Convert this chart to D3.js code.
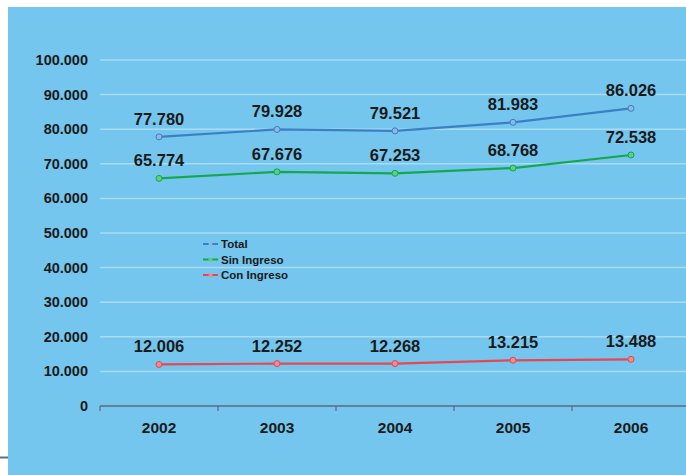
<!DOCTYPE html>
<html>
<head>
<meta charset="utf-8">
<script src="https://cdn.jsdelivr.net/npm/d3@7"></script>
<style>
  body { margin: 0; background: #fff; }
  text { font-family: "Liberation Sans", Arial, sans-serif; font-weight: bold; }
</style>
</head>
<body>
<script>
// chart data
var years = ["2002", "2003", "2004", "2005", "2006"];
var total = [77780, 79928, 79521, 81983, 86026];
var sinIngreso = [65774, 67676, 67253, 68768, 72538];
var conIngreso = [12006, 12252, 12268, 13215, 13488];
var yTicks = [0, 10000, 20000, 30000, 40000, 50000, 60000, 70000, 80000, 90000, 100000];

var w = 686, h = 475;
var series = [
  {name: "Total", values: total, color: "#3b7fc6", fill: "#8fb8e0"},
  {name: "Sin Ingreso", values: sinIngreso, color: "#14a84c", fill: "#5ccf85"},
  {name: "Con Ingreso", values: conIngreso, color: "#e8474f", fill: "#f08a90"}
];

var svg = d3.select("body").append("svg")
  .attr("width", w)
  .attr("height", h);

// background panel
svg.append("rect")
  .attr("x", 8).attr("y", 7)
  .attr("width", w - 8).attr("height", h - 7)
  .attr("fill", "#74c6ee");
svg.append("line")
  .attr("x1", 0).attr("x2", 8)
  .attr("y1", 457.5).attr("y2", 457.5)
  .style("stroke", "#5a6e8a")
  .style("stroke-width", 2);

var x = d3.scaleBand().domain(years).range([100, 690]);
var y = d3.scaleLinear().domain([0, 100000]).range([406, 60]);
var fmt = function (v) {
  return v === 0 ? "0" : d3.format(",")(v).replace(/,/g, ".");
};

// gridlines
svg.append("g")
  .selectAll("line")
  .data(yTicks.filter(function (d) { return d > 0; }))
  .enter().append("line")
  .attr("x1", 100).attr("x2", w)
  .attr("y1", function (d) { return y(d); })
  .attr("y2", function (d) { return y(d); })
  .style("stroke", "#a9dcf4")
  .style("stroke-width", 1.5);

// y axis labels
svg.append("g")
  .selectAll("text")
  .data(yTicks)
  .enter().append("text")
  .attr("x", 88)
  .attr("y", function (d) { return y(d); })
  .attr("dy", "0.35em")
  .attr("text-anchor", "end")
  .attr("font-size", "14.5px")
  .attr("fill", "#1a1a1a")
  .text(fmt);

// x axis
var xAxis = svg.append("g")
  .attr("transform", "translate(0," + y(0) + ")")
  .call(d3.axisBottom(x).tickSize(0).tickPadding(16).tickSizeOuter(0));
xAxis.select(".domain").remove();
xAxis.append("line")
  .attr("x1", 100).attr("x2", w)
  .style("stroke", "#5a6a80").style("stroke-width", 1.5);
xAxis.selectAll(".sep")
  .data(years)
  .enter().append("line")
  .attr("class", "sep")
  .attr("x1", function (d) { return x(d); })
  .attr("x2", function (d) { return x(d); })
  .attr("y1", 0).attr("y2", 5)
  .style("stroke", "#5a6a80").style("stroke-width", 1.2);
xAxis.selectAll(".tick text")
  .attr("font-size", "15.5px")
  .attr("fill", "#1a1a1a")
  .style("font-family", "'Liberation Sans', Arial, sans-serif")
  .style("font-weight", "bold");

var line = d3.line()
  .x(function (d, i) { return x(years[i]) + x.bandwidth() / 2; })
  .y(function (d) { return y(d); });

series.forEach(function (s) {
  var g = svg.append("g");
  g.append("path")
    .datum(s.values)
    .attr("d", line)
    .attr("fill", "none")
    .style("stroke", s.color)
    .style("stroke-width", 2.2);
  g.selectAll("circle")
    .data(s.values)
    .enter().append("circle")
    .attr("cx", function (d, i) { return x(years[i]) + x.bandwidth() / 2; })
    .attr("cy", function (d) { return y(d); })
    .attr("r", 3)
    .attr("fill", s.fill)
    .style("stroke", s.color)
    .style("stroke-width", 1);
  g.selectAll("text")
    .data(s.values)
    .enter().append("text")
    .attr("x", function (d, i) { return x(years[i]) + x.bandwidth() / 2; })
    .attr("y", function (d) { return y(d) - 12; })
    .attr("text-anchor", "middle")
    .attr("font-size", "16.5px")
    .attr("fill", "#1a1a1a")
    .text(fmt);
});

// legend
var legend = svg.append("g").attr("transform", "translate(203, 244)");
series.forEach(function (s, i) {
  var row = legend.append("g").attr("transform", "translate(0," + i * 15.5 + ")");
  row.append("line")
    .attr("x1", 0).attr("x2", 15)
    .style("stroke", s.color).style("stroke-width", 2);
  row.append("circle")
    .attr("cx", 7.5).attr("r", 2)
    .attr("fill", s.fill);
  row.append("text")
    .attr("x", 18).attr("dy", "0.35em")
    .attr("font-size", "11.5px")
    .attr("fill", "#1a1a1a")
    .text(s.name);
});
</script>
</body>
</html>
